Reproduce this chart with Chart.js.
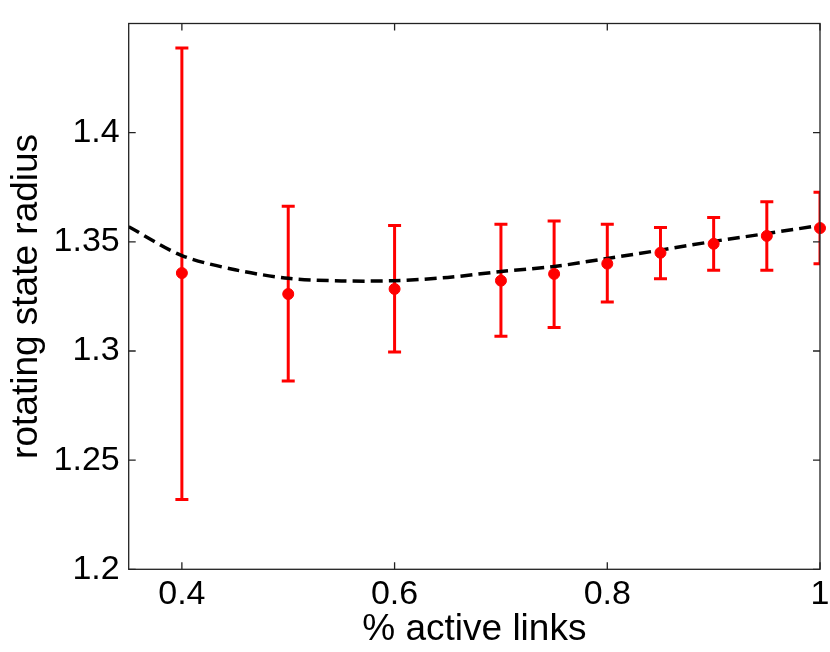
<!DOCTYPE html>
<html>
<head>
<meta charset="utf-8">
<script src="https://cdn.jsdelivr.net/npm/chart.js@4/dist/chart.umd.min.js"></script>
<style>
  html, body { margin: 0; padding: 0; background: #fff; }
  #wrap { width: 830px; height: 652px; }
</style>
</head>
<body>
<div id="wrap"><canvas id="radiusChart" width="830" height="652"></canvas></div>
<script>
// measured points (fraction of active links) with error bars
const linkFrac = [0.4, 0.5, 0.6, 0.7, 0.75, 0.8, 0.85, 0.9, 0.95, 1.0];
const radiusMean = [1.3357, 1.3261, 1.3284, 1.3322, 1.3353, 1.3400, 1.3450, 1.3491, 1.3527, 1.3563];
const radiusUpper = [1.4388, 1.3663, 1.3575, 1.3580, 1.3595, 1.3580, 1.3566, 1.3611, 1.3683, 1.3727];
const radiusLower = [1.2320, 1.2863, 1.2995, 1.3067, 1.3108, 1.3224, 1.3331, 1.3370, 1.3370, 1.3400];

// dashed fit curve
const fitX = [0.35, 0.4, 0.45, 0.5, 0.55, 0.6, 0.65, 0.7, 0.75, 0.8, 0.85, 0.9, 0.95, 1.0];
const fitY = [1.3569, 1.3437, 1.3372, 1.3333, 1.3321, 1.3322, 1.3337, 1.3364, 1.3387, 1.3424, 1.3462, 1.3502, 1.3538, 1.3575];

// axis ticks
const xTicks = [0.4, 0.6, 0.8, 1];
const yTicks = [1.2, 1.25, 1.3, 1.35, 1.4];

const FONT = "'Liberation Sans', Arial, Helvetica, sans-serif";

// Draw the vertical error bars using the chart scales
const errorBarPlugin = {
    id: 'errorBars',
    beforeDatasetsDraw(chart) {
        const ctx = chart.ctx;
        const xs = chart.scales.x;
        const ys = chart.scales.y;
        const area = chart.chartArea;
        ctx.save();
        ctx.beginPath();
        ctx.rect(area.left, area.top, area.right - area.left, area.bottom - area.top);
        ctx.clip();
        ctx.strokeStyle = '#ff0000';
        ctx.lineWidth = 3;
        linkFrac.forEach((x, i) => {
            const px = xs.getPixelForValue(x);
            const top = ys.getPixelForValue(radiusUpper[i]);
            const bot = ys.getPixelForValue(radiusLower[i]);
            ctx.beginPath();
            ctx.moveTo(px, top);
            ctx.lineTo(px, bot);
            ctx.moveTo(px - 6.5, top);
            ctx.lineTo(px + 6.5, top);
            ctx.moveTo(px - 6.5, bot);
            ctx.lineTo(px + 6.5, bot);
            ctx.stroke();
        });
        ctx.restore();
    }
};

// Box around the plot with inward ticks on all four sides
const boxPlugin = {
    id: 'boxTicks',
    afterDraw(chart) {
        const ctx = chart.ctx;
        const xs = chart.scales.x;
        const ys = chart.scales.y;
        const a = chart.chartArea;
        const len = 7;
        ctx.save();
        ctx.strokeStyle = '#222';
        ctx.lineWidth = 1.3;
        ctx.strokeRect(a.left, a.top, a.right - a.left, a.bottom - a.top);
        ctx.beginPath();
        xTicks.forEach(v => {
            const px = xs.getPixelForValue(v);
            ctx.moveTo(px, a.bottom);
            ctx.lineTo(px, a.bottom - len);
            ctx.moveTo(px, a.top);
            ctx.lineTo(px, a.top + len);
        });
        yTicks.forEach(v => {
            const py = ys.getPixelForValue(v);
            ctx.moveTo(a.left, py);
            ctx.lineTo(a.left + len, py);
            ctx.moveTo(a.right, py);
            ctx.lineTo(a.right - len, py);
        });
        ctx.stroke();
        ctx.restore();
    }
};

const ctx = document.getElementById('radiusChart').getContext('2d');

new Chart(ctx, {
    type: 'scatter',
    data: {
        datasets: [
            {
                label: 'measured',
                data: linkFrac.map((x, i) => ({ x: x, y: radiusMean[i] })),
                backgroundColor: '#ff0000',
                borderColor: '#ff0000',
                pointRadius: 5.5,
                pointHoverRadius: 5.5,
                showLine: false,
                clip: false,
                order: 0
            },
            {
                label: 'fit',
                data: fitX.map((x, i) => ({ x: x, y: fitY[i] })),
                borderColor: '#000000',
                borderWidth: 3.5,
                borderDash: [12, 6],
                pointRadius: 0,
                showLine: true,
                tension: 0.3,
                fill: false,
                order: 1
            }
        ]
    },
    options: {
        responsive: false,
        animation: false,
        events: [],
        layout: {
            padding: { left: 0, right: 10, top: 23.5, bottom: 0 }
        },
        plugins: {
            legend: { display: false },
            tooltip: { enabled: false }
        },
        scales: {
            x: {
                type: 'linear',
                min: 0.35,
                max: 1,
                afterBuildTicks: scale => { scale.ticks = xTicks.map(v => ({ value: v })); },
                afterFit: scale => {
                    scale.height = 82.7;
                    scale.paddingLeft = 0;
                    scale.paddingRight = 0;
                },
                grid: { display: false, drawTicks: false },
                border: { display: false },
                ticks: {
                    color: '#000',
                    font: { family: FONT, size: 34 },
                    padding: 5,
                    maxRotation: 0,
                    callback: v => String(v)
                },
                title: {
                    display: true,
                    text: '% active links',
                    color: '#000',
                    font: { family: FONT, size: 37 },
                    padding: { top: 0, bottom: 0 }
                }
            },
            y: {
                type: 'linear',
                min: 1.2,
                max: 1.45,
                afterBuildTicks: scale => { scale.ticks = yTicks.map(v => ({ value: v })); },
                afterFit: scale => {
                    scale.width = 128.7;
                    scale.paddingTop = 0;
                    scale.paddingBottom = 0;
                },
                grid: { display: false, drawTicks: false },
                border: { display: false },
                ticks: {
                    color: '#000',
                    font: { family: FONT, size: 34 },
                    padding: 9,
                    callback: v => String(v)
                },
                title: {
                    display: true,
                    text: 'rotating state radius',
                    color: '#000',
                    font: { family: FONT, size: 37 },
                    padding: { top: 5, bottom: 0 }
                }
            }
        }
    },
    plugins: [errorBarPlugin, boxPlugin]
});
</script>
</body>
</html>
